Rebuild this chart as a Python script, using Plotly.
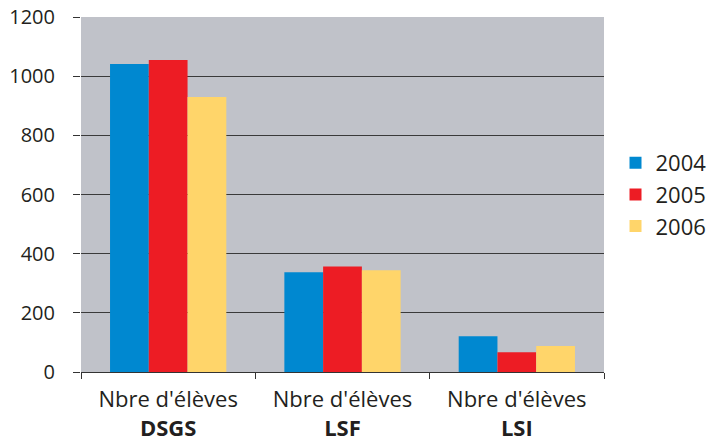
import plotly.graph_objects as go

categories = ["Nbre d'élèves<br><b>DSGS</b>", "Nbre d'élèves<br><b>LSF</b>", "Nbre d'élèves<br><b>LSI</b>"]
years = ["2004", "2005", "2006"]
values_2004 = [1041, 337, 121]
values_2005 = [1055, 357, 67]
values_2006 = [930, 344, 88]
colors = ["#0088D0", "#ED1C24", "#FFD56A"]
y_ticks = [0, 200, 400, 600, 800, 1000, 1200]

series = [values_2004, values_2005, values_2006]
fig = go.Figure()
for name, vals, col in zip(years, series, colors):
    fig.add_trace(go.Bar(x=categories, y=vals, name=name, marker=dict(color=col, line=dict(width=0))))

font_family = "Open Sans, Lato, sans-serif"
fig.update_layout(
    width=713, height=444,
    margin=dict(l=81, r=109, t=17, b=72, autoexpand=False),
    paper_bgcolor="white",
    plot_bgcolor="#C0C2C9",
    barmode="group",
    bargap=0.333,
    bargroupgap=0,
    font=dict(family=font_family, color="#231F20", size=22),
    legend=dict(x=1.022, y=0.5, xanchor="left", yanchor="middle",
                font=dict(size=22, color="#231F20"), tracegroupgap=0,
                itemwidth=30),
    showlegend=True,
)
fig.update_xaxes(
    showgrid=False, tickson="boundaries", ticks="outside", ticklen=6,
    tickcolor="#333333", showline=True, linecolor="#333333", linewidth=1,
    tickfont=dict(size=22), zeroline=False, automargin=False,
    ticklabelstandoff=8,
)
fig.update_yaxes(
    range=[0, 1200], tickvals=y_ticks, showgrid=True, gridcolor="#3a3a3a",
    gridwidth=1, ticks="outside", ticklen=7, tickcolor="#333333",
    showline=False, zeroline=False, tickfont=dict(size=20),
    ticklabelstandoff=14, automargin=False,
)
fig.write_html(
    "out.html",
    config={"displayModeBar": False},
    post_script="document.body.style.margin='0';document.body.style.overflow='hidden';",
)
